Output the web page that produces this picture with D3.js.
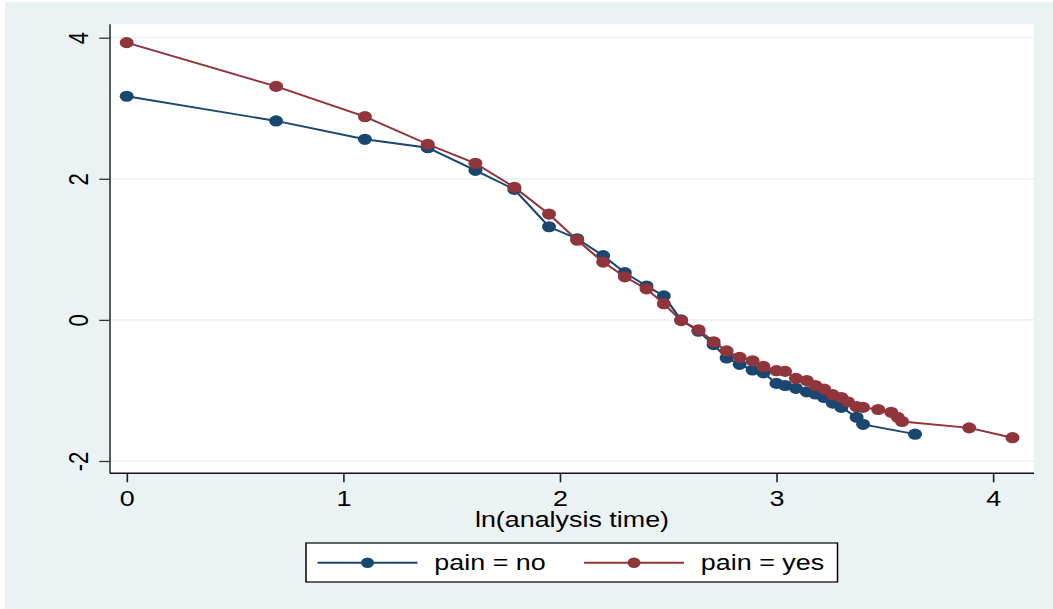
<!DOCTYPE html>
<html>
<head>
<meta charset="utf-8">
<script src="https://cdn.jsdelivr.net/npm/d3@7"></script>
<style>
  html, body { margin: 0; padding: 0; background: #ffffff; overflow: hidden; }
  svg { display: block; }
  text { font-family: "Liberation Sans", Arial, Helvetica, sans-serif; fill: #000; }
</style>
</head>
<body>
<svg id="chart"></svg>
<script>
// -ln(-ln S(t)) against ln(analysis time), by pain group
const lnTimeNo = [0, 0.69, 1.10, 1.39, 1.61, 1.79, 1.95, 2.08, 2.20, 2.30, 2.40, 2.48, 2.56, 2.64, 2.71,
                  2.77, 2.83, 2.89, 2.94, 3.00, 3.04, 3.09, 3.14, 3.18, 3.22, 3.26, 3.30, 3.37, 3.40, 3.64];
const painNo   = [3.17, 2.82, 2.56, 2.44, 2.12, 1.85, 1.32, 1.15, 0.91, 0.67, 0.48, 0.34, 0.00, -0.16, -0.35,
                  -0.54, -0.63, -0.71, -0.75, -0.90, -0.93, -0.97, -1.02, -1.05, -1.10, -1.18, -1.24, -1.38, -1.48, -1.62];

const lnTimeYes = [0, 0.69, 1.10, 1.39, 1.61, 1.79, 1.95, 2.08, 2.20, 2.30, 2.40, 2.48, 2.56, 2.64, 2.71,
                   2.77, 2.83, 2.89, 2.94, 3.00, 3.04, 3.09, 3.14, 3.18, 3.22, 3.26, 3.30, 3.33, 3.37, 3.40,
                   3.47, 3.53, 3.56, 3.58, 3.89, 4.09];
const painYes   = [3.93, 3.31, 2.88, 2.49, 2.22, 1.88, 1.50, 1.13, 0.82, 0.61, 0.44, 0.23, -0.01, -0.14, -0.31,
                   -0.44, -0.53, -0.58, -0.66, -0.72, -0.73, -0.83, -0.86, -0.93, -0.98, -1.06, -1.10, -1.16, -1.23, -1.24,
                   -1.27, -1.31, -1.38, -1.44, -1.53, -1.67];

const xTicks = [0, 1, 2, 3, 4];
const yTicks = [-2, 0, 2, 4];
const xTitle = "ln(analysis time)";
const seriesLabels = ["pain = no", "pain = yes"];
const seriesColors = ["#1a476f", "#90353b"];

const series = [
  { label: seriesLabels[0], color: seriesColors[0], pts: lnTimeNo.map((t, i) => [t, painNo[i]]) },
  { label: seriesLabels[1], color: seriesColors[1], pts: lnTimeYes.map((t, i) => [t, painYes[i]]) }
];

// The graph is laid out on a narrower canvas and stretched to the window width.
const W = 1053, H = 609, SX = 1.25;
const VW = W / SX;
const bg = "#eaf2f3";
const tickFmt = d => String(d);   // plain hyphen-minus, e.g. "-2"

const svg = d3.select("#chart")
  .attr("width", W).attr("height", H)
  .attr("viewBox", `0 0 ${VW} ${H}`)
  .attr("preserveAspectRatio", "none");

// outer graph region
svg.append("rect").attr("x", 5 / SX).attr("y", 2).attr("width", VW).attr("height", H).attr("fill", bg);

// plot region
const plot = { left: 110 / SX, right: 1034 / SX, top: 24.3, bottom: 473.3 };
svg.append("rect")
  .attr("x", plot.left).attr("y", plot.top)
  .attr("width", plot.right - plot.left).attr("height", plot.bottom - plot.top)
  .attr("fill", "#ffffff");

const x = d3.scaleLinear().domain([0, 4]).range([126.7 / SX, 993 / SX]);
const y = d3.scaleLinear().domain([-2, 4]).range([461, 37.7]);

// horizontal grid lines
svg.append("g").selectAll("line").data(yTicks).join("line")
  .attr("x1", plot.left).attr("x2", plot.right)
  .attr("y1", d => y(d)).attr("y2", d => y(d))
  .attr("stroke", bg).attr("stroke-width", 1.6);

// y axis
const yAxis = svg.append("g").attr("transform", `translate(${plot.left},0)`)
  .call(d3.axisLeft(y).tickValues(yTicks).tickSize(8.6).tickSizeOuter(0).tickFormat(tickFmt));
yAxis.select(".domain").remove();
yAxis.selectAll(".tick line").attr("stroke", "#333").attr("stroke-width", 1.3);
yAxis.selectAll(".tick text")
  .attr("transform", "rotate(-90)")
  .attr("x", 0).attr("y", -17.8).attr("dy", 0)
  .attr("text-anchor", "middle")
  .style("font-size", "22px").style("font-family", "Liberation Sans, Arial, sans-serif");

// x axis
const xAxis = svg.append("g").attr("transform", `translate(0,${plot.bottom})`)
  .call(d3.axisBottom(x).tickValues(xTicks).tickSize(9).tickSizeOuter(0).tickFormat(tickFmt));
xAxis.select(".domain").remove();
xAxis.selectAll(".tick line").attr("stroke", "#222").attr("stroke-width", 1.3);
xAxis.selectAll(".tick text")
  .attr("y", 32.8).attr("dy", 0)
  .style("font-size", "21.5px").style("font-family", "Liberation Sans, Arial, sans-serif");

// axis lines along the plot region edges
svg.append("line").attr("x1", plot.left).attr("x2", plot.left)
  .attr("y1", plot.top).attr("y2", plot.bottom).attr("stroke", "#444").attr("stroke-width", 1.4);
svg.append("line").attr("x1", plot.left).attr("x2", plot.right)
  .attr("y1", plot.bottom).attr("y2", plot.bottom).attr("stroke", "#111").attr("stroke-width", 1.4);

// x axis title
svg.append("text")
  .attr("x", (plot.left + plot.right) / 2).attr("y", 527.5)
  .attr("text-anchor", "middle").style("font-size", "21.5px")
  .text(xTitle);

// connected series
const line = d3.line().x(d => x(d[0])).y(d => y(d[1]));
const groups = svg.append("g").selectAll("g").data(series).join("g");
groups.append("path")
  .attr("d", d => line(d.pts))
  .attr("fill", "none").attr("stroke", d => d.color).attr("stroke-width", 1.9);
groups.selectAll("circle").data(d => d.pts.map(p => ({ p, color: d.color }))).join("circle")
  .attr("cx", d => x(d.p[0])).attr("cy", d => y(d.p[1]))
  .attr("r", 5.6).attr("fill", d => d.color);

// legend
const leg = { x0: 306 / SX, x1: 837.5 / SX, y0: 543, y1: 582 };
svg.append("rect")
  .attr("x", leg.x0).attr("y", leg.y0)
  .attr("width", leg.x1 - leg.x0).attr("height", leg.y1 - leg.y0)
  .attr("fill", "#ffffff").attr("stroke", "#000").attr("stroke-width", 1.2);
const legY = 562.7;
const keyStart = [317.5 / SX, 584 / SX];
const keyLen = 100 / SX;
const items = svg.append("g").selectAll("g").data(series).join("g")
  .attr("transform", (d, i) => `translate(${keyStart[i]},${legY})`);
items.append("line").attr("x1", 0).attr("x2", keyLen).attr("y1", 0).attr("y2", 0)
  .attr("stroke", d => d.color).attr("stroke-width", 1.9);
items.append("circle").attr("cx", keyLen / 2).attr("cy", 0).attr("r", 5.2).attr("fill", d => d.color);
items.append("text").attr("x", keyLen + 13.5).attr("y", 7.6)
  .style("font-size", "21.5px").text(d => d.label);
</script>
</body>
</html>
